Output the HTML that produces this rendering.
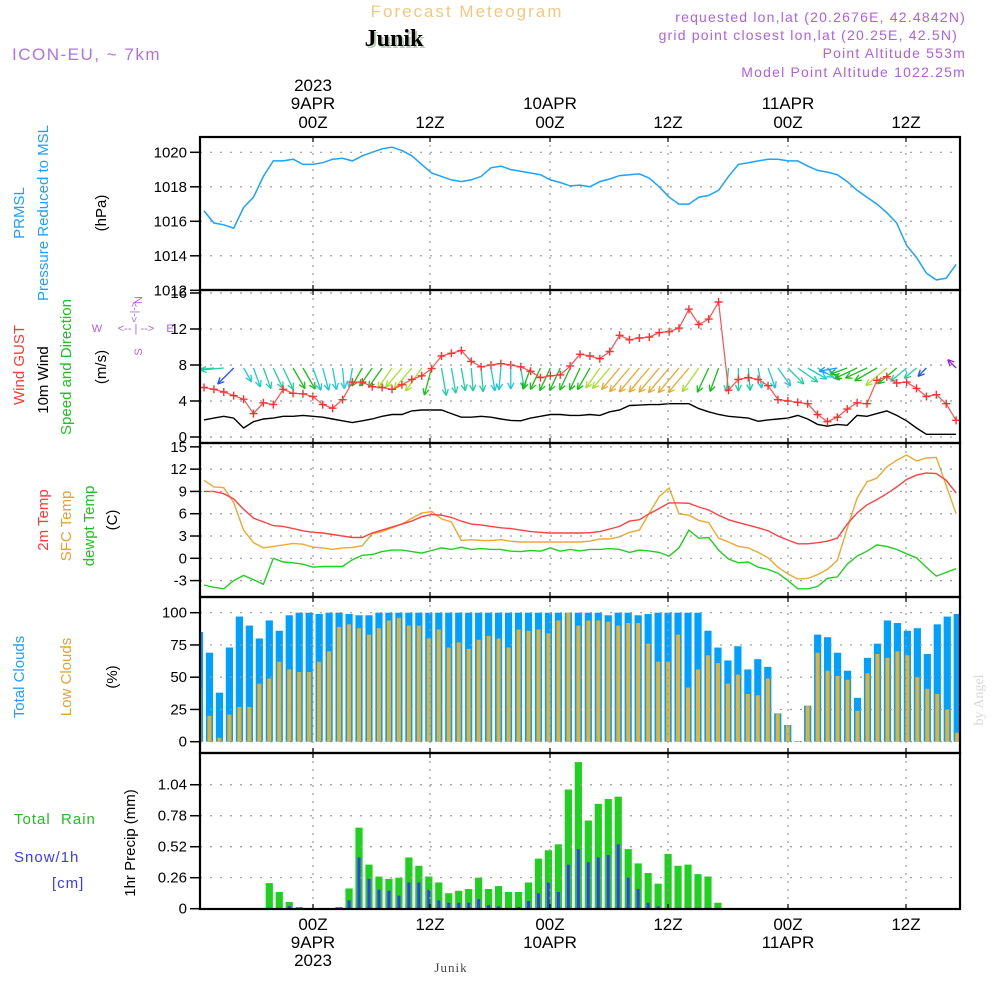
<!DOCTYPE html>
<html><head><meta charset="utf-8"><style>
html,body{margin:0;padding:0;background:#fff;}
svg{display:block;font-family:"Liberation Sans",sans-serif;}
</style></head><body>
<svg id="chart" width="1000" height="1000" viewBox="0 0 1000 1000" xmlns="http://www.w3.org/2000/svg">
<text x="467" y="17" text-anchor="middle" font-size="17" fill="#f2c880" letter-spacing="2">Forecast Meteogram</text>
<text x="396" y="48" text-anchor="middle" font-size="24" font-weight="bold" font-family="Liberation Serif,serif" fill="#b8d0b8">Junik</text>
<text x="394" y="46" text-anchor="middle" font-size="24" font-weight="bold" font-family="Liberation Serif,serif" fill="#000">Junik</text>
<text x="12" y="60" font-size="17" fill="#b070e8" letter-spacing="1.5">ICON-EU, ~ 7km</text>
<g font-size="14" fill="#b060e0" text-anchor="end" letter-spacing="1.2">
<text x="966" y="22">requested lon,lat (20.2676E, 42.4842N)</text>
<text x="958" y="40">grid point closest lon,lat (20.25E, 42.5N)</text>
<text x="966" y="58">Point Altitude 553m</text>
<text x="966" y="77">Model Point Altitude 1022.25m</text>
</g>
<g id="plots"></g>
<g font-size="15">
<text transform="translate(24,213) rotate(-90)" text-anchor="middle" fill="#1e9fff">PRMSL</text>
<text transform="translate(48,213) rotate(-90)" text-anchor="middle" fill="#1e9fff">Pressure Reduced to MSL</text>
<text transform="translate(106,213) rotate(-90)" text-anchor="middle" fill="#000">(hPa)</text>
<text transform="translate(24,365) rotate(-90)" text-anchor="middle" fill="#ff3838">Wind GUST</text>
<text transform="translate(48,380) rotate(-90)" text-anchor="middle" fill="#000">10m Wind</text>
<text transform="translate(71,367) rotate(-90)" text-anchor="middle" fill="#20c020">Speed and Direction</text>
<text transform="translate(106,367) rotate(-90)" text-anchor="middle" fill="#000">(m/s)</text>
<g font-size="11" fill="#b060e0" text-anchor="middle">
<text transform="translate(139,300) rotate(-90)" dominant-baseline="middle">N</text>
<text x="97" y="332">W</text>
<text x="136" y="332">&lt;-- | --&gt;</text>
<text x="170" y="332">E</text>
<text transform="translate(135,312) rotate(-90)" dominant-baseline="middle" font-size="10">&lt;-|-&gt;</text>
<text transform="translate(139,352) rotate(-90)" dominant-baseline="middle">S</text>
</g>
<text transform="translate(48,520) rotate(-90)" text-anchor="middle" fill="#ff3838">2m Temp</text>
<text transform="translate(71,526) rotate(-90)" text-anchor="middle" fill="#e8a030">SFC Temp</text>
<text transform="translate(94,526) rotate(-90)" text-anchor="middle" fill="#20c020">dewpt Temp</text>
<text transform="translate(117,520) rotate(-90)" text-anchor="middle" fill="#000">(C)</text>
<text transform="translate(24,677) rotate(-90)" text-anchor="middle" fill="#1e9fff">Total Clouds</text>
<text transform="translate(71,677) rotate(-90)" text-anchor="middle" fill="#e8a030">Low Clouds</text>
<text transform="translate(117,677) rotate(-90)" text-anchor="middle" fill="#000">(%)</text>
<text x="14" y="824" fill="#20c020" letter-spacing="1">Total&#160;&#160;Rain</text>
<text x="14" y="862" fill="#3a3aff" letter-spacing="1">Snow/1h</text>
<text x="52" y="888" fill="#3a3aff" letter-spacing="1">[cm]</text>
<text transform="translate(135,843) rotate(-90)" text-anchor="middle" fill="#000">1hr Precip (mm)</text>
</g>
<text transform="translate(983,700) rotate(-90)" text-anchor="middle" font-size="14" font-family="Liberation Serif,serif" fill="#d8d8d8">by Angel</text>
<text x="451" y="972" text-anchor="middle" font-size="13" font-family="Liberation Serif,serif" fill="#444" letter-spacing="1">Junik</text>
</svg>
<script>
const hourIdx=[...Array(77).keys()];
const timeTicks=[313,430,550,668,788,906];
const topLabels=[["2023","9APR","00Z"],["","","12Z"],["","10APR","00Z"],["","","12Z"],["","11APR","00Z"],["","","12Z"]];
const pressure=[1016.6,1015.9,1015.8,1015.6,1016.8,1017.4,1018.6,1019.5,1019.5,1019.6,1019.3,1019.3,1019.4,1019.6,1019.65,1019.5,1019.8,1020.0,1020.2,1020.3,1020.1,1019.8,1019.3,1018.8,1018.6,1018.4,1018.3,1018.4,1018.6,1019.1,1019.2,1019.0,1018.9,1018.8,1018.7,1018.4,1018.25,1018.05,1018.1,1018.0,1018.3,1018.45,1018.65,1018.7,1018.75,1018.5,1018.0,1017.4,1017.0,1017.0,1017.4,1017.5,1017.8,1018.6,1019.3,1019.4,1019.5,1019.6,1019.6,1019.5,1019.5,1019.2,1018.95,1018.85,1018.7,1018.3,1017.8,1017.4,1017.0,1016.5,1015.9,1014.6,1013.9,1013.0,1012.6,1012.7,1013.5];
const gust=[5.5,5.3,5.0,4.6,4.2,2.6,3.8,3.6,5.3,4.85,4.8,4.5,3.6,3.2,4.15,6.1,6.1,5.6,5.5,5.3,5.8,6.4,6.8,7.6,9.0,9.3,9.6,8.4,7.8,8.0,8.15,8.0,7.8,7.3,6.6,6.8,6.9,7.9,9.2,9.0,8.7,9.5,11.3,10.8,11.0,11.1,11.6,11.7,12.1,14.2,12.5,13.1,15.0,5.2,6.4,6.6,6.4,5.7,4.15,4.0,3.85,3.7,2.5,1.7,2.2,3.1,3.8,3.7,6.3,6.7,6.0,6.1,5.4,4.5,4.7,3.7,1.85];
const windSpeed=[1.9,2.1,2.3,2.1,1.0,1.7,2.0,2.1,2.3,2.3,2.4,2.3,2.2,2.0,1.8,1.6,1.8,2.0,2.3,2.5,2.5,2.9,3.0,3.0,3.0,2.6,2.2,2.2,2.3,2.2,2.0,1.85,1.8,2.1,2.3,2.5,2.5,2.4,2.4,2.5,2.4,2.8,3.0,3.5,3.55,3.6,3.6,3.7,3.7,3.7,3.15,2.8,2.5,2.3,2.2,2.1,1.75,1.9,2.0,2.1,2.4,2.0,1.4,1.2,1.4,1.3,2.4,2.3,2.6,2.9,2.4,1.8,1.0,0.3,0.3,0.3,0.3];
const windAngle=[85,85,85,45,-30,-20,-20,-25,-25,-30,-30,-20,-15,-10,-5,10,30,35,35,35,40,40,35,15,-10,-10,-10,-5,-5,-10,5,0,-10,20,25,25,25,25,25,30,35,40,40,40,40,40,40,40,40,40,35,25,20,5,0,-5,-10,-20,-35,-45,-55,-60,-60,-45,80,70,65,65,60,50,50,50,50,45,null,null,135];
const windColor=["T","T","T","B","C","C","T","T","T","G","G","C","C","C","C","C","G","G","G","Y","Y","Y","Y","G","T","T","T","T","T","C","C","C","T","G","G","G","G","G","G","G","Y","Y","O","O","O","O","O","O","O","O","Y","G","G","T","T","T","C","C","C","T","T","C","C","L","L","G","G","G","G","Y","G","T","T","B","B","B","P"];
const temp2m=[9.0,9.0,8.7,8.0,6.6,5.4,4.9,4.4,4.3,4.0,3.7,3.5,3.4,3.2,3.0,2.8,2.8,3.4,3.8,4.2,4.6,5.0,5.6,5.9,5.8,5.5,5.0,4.6,4.5,4.3,4.1,4.0,3.8,3.6,3.5,3.4,3.4,3.4,3.4,3.45,3.6,3.95,4.3,5.0,5.2,6.0,6.7,7.45,7.45,7.4,6.9,6.5,5.8,5.2,4.8,4.45,4.1,3.7,3.0,2.45,1.95,1.95,2.1,2.3,2.7,4.6,6.1,7.2,7.9,8.7,9.6,10.6,11.2,11.5,11.4,10.5,8.8];
const sfcTemp=[10.5,9.6,9.5,7.5,3.8,2.1,1.4,1.6,1.8,2.0,1.9,1.5,1.4,1.2,1.4,1.45,1.7,3.3,3.6,4.1,4.6,5.4,6.1,6.3,5.3,4.9,2.4,2.5,2.4,2.4,2.5,2.3,2.2,2.2,2.2,2.2,2.2,2.2,2.2,2.3,2.6,2.6,2.9,3.5,3.8,6.1,8.3,9.45,6.0,5.8,5.1,4.8,2.7,2.2,1.6,1.4,0.8,0.05,-1.2,-2.1,-2.8,-2.7,-2.2,-1.5,-0.3,4.0,8.1,10.3,10.8,12.3,13.2,13.9,13.1,13.5,13.6,9.8,6.0];
const dewpt=[-3.6,-3.9,-4.1,-3.0,-2.3,-2.9,-3.5,0.0,-0.5,-0.6,-0.8,-1.2,-1.1,-1.1,-1.1,-0.2,0.4,0.5,0.9,1.1,1.1,0.9,0.7,1.05,1.4,1.2,1.5,1.2,1.3,1.2,1.2,0.95,0.9,1.05,0.95,1.4,0.95,1.2,1.0,1.2,1.2,1.3,1.2,0.8,1.1,1.0,0.8,0.3,1.4,3.8,2.7,2.8,1.1,-0.1,-0.6,-0.5,-1.2,-1.5,-2.0,-3.0,-4.1,-4.1,-3.8,-2.7,-2.5,-0.8,0.3,0.95,1.8,1.6,1.2,0.6,0.05,-1.2,-2.4,-1.9,-1.4];
const totalCloud=[85,69,38,73,97,90,80,94,86,98,100,100,99,100,100,99,98,98,100,100,100,100,100,100,100,100,100,100,100,100,100,100,100,100,100,100,100,100,100,100,100,98,100,100,98,99,100,100,100,100,100,86,73,63,74,56,64,58,22,13,0.5,28,83,81,69,55,34,65,76,94,92,86,88,68,91,97,99];
const lowCloud=[41,20,3,21,27,27,45,49,62,56,54,54,62,70,89,91,88,83,88,94,96,90,90,80,87,73,77,72,79,82,80,73,87,86,87,84,94,100,90,94,94,93,90,92,92,76,62,62,83,42,56,67,61,45,52,37,36,49,22,13,0.5,28,69,55,51,48,24,53,68,65,70,67,50,41,37,25,7];
const rain=[0,0,0,0,0,0,0,0.215,0.14,0.056,0.014,0,0,0,0.014,0.17,0.68,0.37,0.27,0.25,0.26,0.43,0.36,0.27,0.22,0.13,0.15,0.165,0.26,0.165,0.19,0.14,0.14,0.22,0.42,0.49,0.54,1.0,1.23,0.74,0.88,0.92,0.94,0.50,0.38,0.30,0.21,0.46,0.36,0.37,0.29,0.27,0.05,0,0,0,0,0,0,0,0,0,0,0,0,0,0,0,0,0,0,0,0,0,0,0,0];
const snow=[0,0,0,0,0,0,0,0,0,0.022,0,0,0,0,0,0.07,0.43,0.25,0.16,0.15,0.11,0.22,0.22,0.16,0.07,0.05,0.05,0.05,0.08,0.03,0.02,0.005,0.014,0.064,0.13,0.22,0.14,0.37,0.50,0.39,0.43,0.45,0.54,0.26,0.165,0.05,0.02,0,0,0,0,0,0,0,0,0,0,0,0,0,0,0,0,0,0,0,0,0,0,0,0,0,0,0,0,0,0];
const pTicks=[1020,1018,1016,1014,1012];
const wTicks=[16,12,8,4,0];
const tTicks=[15,12,9,6,3,0,-3];
const cTicks=[100,75,50,25,0];
const rTicks=[1.04,0.78,0.52,0.26,0];

const NS="http://www.w3.org/2000/svg";
const root=document.getElementById('plots');
function mk(tag,attrs,parent){const e=document.createElementNS(NS,tag);for(const k in attrs)e.setAttribute(k,attrs[k]);(parent||root).appendChild(e);return e;}
const X0=200,X1=960;
const lineX=i=>204+9.896*i;
const barX=i=>199.5+9.97*i;
const panels=[
 {name:'pressure',top:137,bot:290,y:v=>152.3+(1020-v)*17.25,ticks:pTicks,fmt:v=>String(v)},
 {name:'wind',top:290,bot:443,y:v=>437-v*9,ticks:wTicks,fmt:v=>String(v)},
 {name:'temp',top:443,bot:597,y:v=>558.3-v*7.43,ticks:tTicks,fmt:v=>String(v)},
 {name:'cloud',top:597,bot:753,y:v=>741.7-v*1.29,ticks:cTicks,fmt:v=>String(v)},
 {name:'precip',top:753,bot:909,y:v=>908.7-v*119.2,ticks:rTicks,fmt:v=>v===0?"0":v.toFixed(2)}
];
const defs=mk('defs',{});
panels.forEach((p,k)=>{
 const cp=mk('clipPath',{id:'clip'+k},defs);
 mk('rect',{x:X0,y:p.top,width:X1-X0,height:p.bot-p.top},cp);
 const g=mk('g',{});
 
 
 p.g=g;
 p.clip=mk('g',{'clip-path':'url(#clip'+k+')'},g);
 timeTicks.forEach(x=>{const l=mk('line',{x1:x,x2:x,y1:p.top,y2:p.bot,stroke:'#999','stroke-width':1.2,'stroke-dasharray':'2 6'},g);
  });
 p.ticks.forEach(v=>{const y=p.y(v);
  const gl=mk('line',{x1:X0,x2:X1,y1:y,y2:y,stroke:'#999','stroke-width':1.2,'stroke-dasharray':'2 8'},g);
  
  mk('line',{x1:190,x2:200,y1:y,y2:y,stroke:'#000','stroke-width':1.5},g);
  const t=mk('text',{x:187,y:y+5,'text-anchor':'end','font-size':15,fill:'#000'},g);
  
  t.textContent=p.fmt(v);});
});
function polyline(p,arr,color,name,w){
 const pts=arr.map((v,i)=>lineX(i).toFixed(1)+','+p.y(v).toFixed(1)).join(' ');
 const l=mk('polyline',{points:pts,fill:'none',stroke:color,'stroke-width':w||1.4},p.clip);
 
}
polyline(panels[0],pressure,'#1aa3ff','pressure-line',1.5);
const wp=panels[1];
const cols={T:'#20d0a0',C:'#20c8d8',G:'#18c018',Y:'#a8e030',O:'#e8a830',B:'#2050ff',L:'#1898ff',P:'#a020e0'};
hourIdx.forEach(i=>{const a=windAngle[i];if(a===null||a===undefined)return;
 const L=10+windSpeed[i]*6;const r=a*Math.PI/180;
 const x0=lineX(i),y0=368;const x1=x0-Math.sin(r)*L,y1=y0+Math.cos(r)*L;
 const c=cols[windColor[i]];
 const g=mk('g',{stroke:c,'stroke-width':1.3,fill:'none'},wp.clip);
 
 mk('line',{x1:x0,y1:y0,x2:x1,y2:y1},g);
 const back=Math.atan2(y0-y1,x0-x1);
 [0.45,-0.45].forEach(d=>{mk('line',{x1:x1,y1:y1,x2:x1+7*Math.cos(back+d),y2:y1+7*Math.sin(back+d)},g);});
});
polyline(wp,windSpeed,'#000','wind-speed-line',1.4);
polyline(wp,gust,'#ff5050','gust-line',1.2);
gust.forEach((v,i)=>{const x=lineX(i),y=wp.y(v);
 const m=mk('path',{d:`M${x-4},${y}h8M${x},${y-4}v8`,stroke:'#ff3030','stroke-width':1.4},wp.clip);
 });
const tp=panels[2];
polyline(tp,sfcTemp,'#f0a830','sfc-temp-line',1.4);
polyline(tp,temp2m,'#ff4040','temp-2m-line',1.4);
polyline(tp,dewpt,'#20d020','dewpoint-line',1.4);
const cp=panels[3];
hourIdx.forEach(i=>{const x=barX(i);
 const b=mk('rect',{x:x-3.6,y:cp.y(totalCloud[i]),width:7.2,height:cp.y(0)-cp.y(totalCloud[i]),fill:'#00a0ff'},cp.clip);
 
 const o=mk('rect',{x:x-2,y:cp.y(lowCloud[i]),width:4,height:cp.y(0)-cp.y(lowCloud[i]),fill:'#e8b030'},cp.clip);
 });
const rp=panels[4];
hourIdx.forEach(i=>{const x=barX(i);
 if(rain[i]>0){const b=mk('rect',{x:x-3.6,y:rp.y(rain[i]),width:7.2,height:rp.y(0)-rp.y(rain[i]),fill:'#20d020'},rp.clip);
 }
 if(snow[i]>0){const s=mk('rect',{x:x-1.5,y:rp.y(snow[i]),width:3,height:rp.y(0)-rp.y(snow[i]),fill:'#3a3aff'},rp.clip);
 }
});
panels.forEach(p=>{mk('rect',{x:X0,y:p.top,width:X1-X0,height:p.bot-p.top,fill:'none',stroke:'#000','stroke-width':2.2},p.g);
 timeTicks.forEach(x=>{mk('line',{x1:x,x2:x,y1:p.top,y2:p.top+5,stroke:'#000','stroke-width':1.2},p.g);
  mk('line',{x1:x,x2:x,y1:p.bot-5,y2:p.bot,stroke:'#000','stroke-width':1.2},p.g);});});
const tl=mk('g',{'font-size':17,fill:'#000','text-anchor':'middle'});

timeTicks.forEach((x,k)=>{const L=topLabels[k];
 [[L[0],91],[L[1],109],[L[2],128]].forEach(([s,y])=>{if(!s)return;const t=mk('text',{x:x,y:y},tl);
  t.textContent=s;});
 [[L[2],930],[L[1],948],[L[0],966]].forEach(([s,y])=>{if(!s)return;const t=mk('text',{x:x,y:y},tl);
  t.textContent=s;});
});
</script>
</body></html>
